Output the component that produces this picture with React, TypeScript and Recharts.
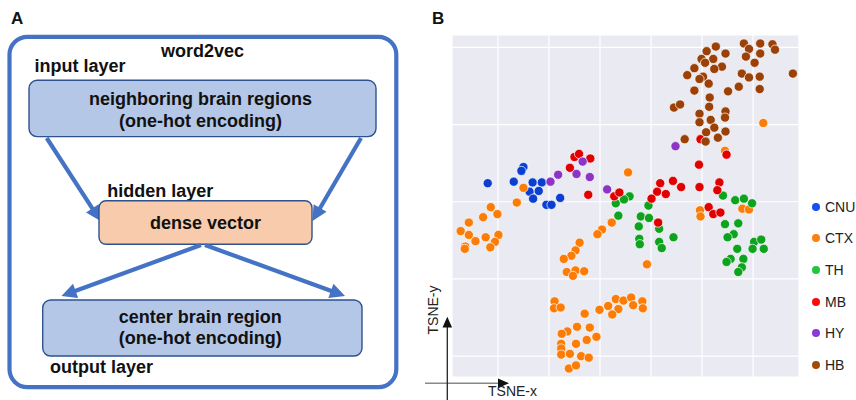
import React from "react";
import { ScatterChart, Scatter, XAxis, YAxis, CartesianGrid, Legend } from "recharts";

// ---------- data (t-SNE coordinates) ----------
const SERIES_NAMES = ["CNU", "CTX", "TH", "MB", "HY", "HB"];
const POINT_COLORS = ["#0b3fd1", "#fb7d07", "#0ea31e", "#e00000", "#8c34c6", "#9b4006"];
const LEGEND_COLORS = ["#1550f5", "#ff8010", "#22c63c", "#ff0a0a", "#8a38d8", "#a24a0a"];

const CNU_POINTS = [
  [-2.0, 22.4], [3.1, 22.6], [5.0, 24.5], [4.6, 24.0], [6.8, 22.5], [8.6, 22.5],
  [6.2, 21.3], [8.0, 21.4], [6.9, 20.4], [12.2, 20.5], [9.5, 19.6], [10.5, 19.6],
];
const CTX_POINTS = [
  [5.0, 21.8], [3.7, 19.9], [-1.4, 19.3], [-0.1, 18.4], [-2.9, 18.0], [-5.7, 17.3],
  [-7.3, 16.2], [-5.7, 15.7], [-2.4, 15.4], [0.1, 15.7], [-4.4, 14.9], [-0.6, 14.8],
  [-6.4, 14.2], [-6.5, 13.9], [-1.5, 14.1], [25.5, 23.8], [22.3, 17.3], [20.4, 16.4],
  [19.5, 15.8], [16.0, 14.7], [15.2, 13.7], [14.4, 13.0], [12.9, 12.6], [13.5, 10.9],
  [15.2, 11.1], [16.9, 11.0], [14.7, 10.4], [29.2, 11.9], [39.6, 18.9], [39.7, 18.1],
  [47.9, 19.1], [49.2, 19.0], [52.0, 30.2], [44.5, 26.6],
  [11.1, 7.1], [11.0, 6.2], [12.3, 6.3], [17.0, 5.5], [19.9, 6.0], [21.6, 6.5],
  [23.1, 7.4], [24.6, 7.2], [26.1, 7.6], [28.3, 7.1], [23.6, 6.1], [26.5, 6.6],
  [28.4, 6.2], [22.4, 5.4], [15.5, 3.8], [18.0, 3.7], [13.6, 3.2], [12.5, 2.9],
  [19.3, 2.5], [17.4, 2.1], [15.3, 1.6], [12.4, 1.6], [12.4, 1.0], [12.4, 0.2],
  [14.1, 0.3], [16.3, 0.0], [17.8, -0.2], [13.9, -1.6], [15.3, -1.2],
];
const TH_POINTS = [
  [23.1, 19.8], [25.8, 20.7], [24.7, 20.3], [29.5, 19.5], [44.1, 20.8], [46.5, 20.2],
  [48.2, 20.4], [49.8, 19.8], [23.6, 18.2], [28.0, 18.1], [29.6, 17.9], [27.6, 16.8],
  [31.6, 16.5], [27.7, 15.2], [27.8, 14.5], [31.6, 14.8], [32.1, 14.0], [34.4, 15.4],
  [44.5, 17.1], [47.1, 17.2], [46.2, 15.8], [45.0, 15.4], [50.2, 14.8], [51.6, 15.1],
  [49.9, 13.9], [52.1, 13.9], [46.9, 13.9], [45.6, 12.6], [44.8, 12.2], [48.1, 12.6],
  [47.8, 11.5], [47.1, 10.9],
];
const MB_POINTS = [
  [15.0, 25.8], [15.9, 26.2], [18.1, 25.6], [14.1, 24.4], [17.7, 20.9], [22.8, 20.7],
  [23.8, 21.2], [39.7, 28.1], [44.8, 26.1], [39.4, 24.8], [34.3, 22.7], [31.8, 22.4],
  [35.9, 21.9], [39.5, 21.9], [43.4, 22.5], [43.0, 21.5], [31.2, 21.3], [32.9, 21.0],
  [30.1, 20.4], [41.3, 19.3], [42.2, 18.4], [43.6, 18.6], [31.4, 17.3],
];
const HY_POINTS = [
  [10.3, 22.6], [11.8, 23.5], [15.4, 23.6], [16.6, 25.2], [18.0, 23.2], [21.4, 21.6],
  [34.8, 27.2],
];
const HB_POINTS = [
  [42.7, 40.1], [40.9, 39.5], [44.6, 39.2], [39.9, 38.5], [42.2, 38.5], [40.6, 38.0],
  [38.5, 37.3], [43.9, 37.5], [42.4, 37.2], [37.1, 36.4], [40.2, 36.2], [39.5, 35.9],
  [41.3, 35.3], [38.5, 34.4], [45.1, 34.3], [47.2, 34.9], [48.2, 40.5], [49.2, 39.8],
  [51.4, 40.5], [53.8, 40.4], [54.3, 39.7], [51.4, 39.2], [48.6, 38.8], [50.3, 38.0],
  [47.8, 36.6], [49.2, 36.1], [51.3, 36.2], [51.3, 34.6], [57.8, 36.6], [41.5, 33.5],
  [41.4, 32.3], [34.5, 32.2], [35.7, 32.6], [39.5, 31.4], [44.6, 31.7], [44.5, 30.9],
  [39.5, 30.3], [41.7, 30.6], [42.4, 29.6], [44.6, 29.1], [40.8, 29.0], [36.6, 28.1],
  [40.7, 27.8], [43.1, 28.3],
];
const ALL_POINTS = [CNU_POINTS, CTX_POINTS, TH_POINTS, MB_POINTS, HY_POINTS, HB_POINTS];

const X_TICKS = [0, 10, 20, 30, 40, 50];
const Y_TICKS = [0, 10, 20, 30, 40];
const X_DOMAIN = [-9.0, 59.0];
const Y_DOMAIN = [-2.7, 41.6];

const series = SERIES_NAMES.map((name, i) => ({
  name,
  color: POINT_COLORS[i],
  legendColor: LEGEND_COLORS[i],
  data: ALL_POINTS[i].map(([x, y]) => ({ x, y })),
}));

const FONT = "'Liberation Sans', Arial, Helvetica, sans-serif";

const Dot = (props: any) => {
  const { cx, cy, fill } = props;
  if (cx == null || cy == null) return null;
  return <circle cx={cx} cy={cy} r={4.6} fill={fill} stroke="#ffffff" strokeWidth={0.7} />;
};

const LegendContent = () => (
  <div style={{ fontFamily: FONT, fontSize: 14, color: "#222" }}>
    {series.map((s) => (
      <div key={s.name} style={{ height: 31.6, display: "flex", alignItems: "center" }}>
        <span
          style={{
            display: "inline-block",
            width: 8,
            height: 8,
            borderRadius: 4,
            background: s.legendColor,
            marginRight: 5,
          }}
        />
        <span>{s.name}</span>
      </div>
    ))}
  </div>
);

// ---------- diagram helpers (panel A) ----------
const DIAG_BLUE = "#4472c4";
const BOX_STROKE = "#2f528f";

function Arrow({ x1, y1, x2, y2 }: { x1: number; y1: number; x2: number; y2: number }) {
  const dx = x2 - x1;
  const dy = y2 - y1;
  const len = Math.sqrt(dx * dx + dy * dy);
  const ux = dx / len;
  const uy = dy / len;
  const headLen = 15;
  const headHalf = 7.5;
  const bx = x2 - ux * headLen;
  const by = y2 - uy * headLen;
  const px = -uy;
  const py = ux;
  const pts = `${x2},${y2} ${bx + px * headHalf},${by + py * headHalf} ${bx - px * headHalf},${by - py * headHalf}`;
  return (
    <g>
      <line x1={x1} y1={y1} x2={bx + ux * 2} y2={by + uy * 2} stroke={DIAG_BLUE} strokeWidth={4.2} />
      <polygon points={pts} fill={DIAG_BLUE} />
    </g>
  );
}

const T = (p: any) => (
  <text fontFamily={FONT} fontWeight="bold" fontSize={18} fill="#111" {...p} />
);

export default function App() {
  return (
    <div style={{ position: "absolute", left: 0, top: 0, width: 856, height: 400, background: "#fff" }}>
      <ScatterChart
        width={856}
        height={400}
        margin={{ top: 35, right: 57, bottom: 23, left: 452 }}
        style={{ fontFamily: FONT }}
      >
        <CartesianGrid fill="#eaeaf2" stroke="#ffffff" strokeWidth={1.2} fillOpacity={1} />
        <XAxis type="number" dataKey="x" domain={X_DOMAIN} ticks={X_TICKS} hide />
        <YAxis type="number" dataKey="y" domain={Y_DOMAIN} ticks={Y_TICKS} hide />
        {series.map((s) => (
          <Scatter
            key={s.name}
            name={s.name}
            data={s.data}
            fill={s.color}
            shape={<Dot />}
            isAnimationActive={false}
          />
        ))}
        <Legend
          layout="horizontal"
          verticalAlign="middle"
          align="center"
          content={<LegendContent />}
          wrapperStyle={{ position: "absolute", left: 812, top: 191, width: 44 }}
        />
      </ScatterChart>

      <svg
        width={856}
        height={400}
        style={{ position: "absolute", left: 0, top: 0, pointerEvents: "none" }}
      >
        {/* panel letters */}
        <text x={11} y={24} fontFamily={FONT} fontWeight="bold" fontSize={17} fill="#111">A</text>
        <text x={432} y={24} fontFamily={FONT} fontWeight="bold" fontSize={17} fill="#111">B</text>

        {/* panel A: word2vec diagram */}
        <rect x={9.5} y={36.8} width={386.8} height={350.4} rx={18} fill="none" stroke={DIAG_BLUE} strokeWidth={4.2} />
        <T x={202.5} y={56.5} textAnchor="middle">word2vec</T>
        <T x={34.5} y={71.5}>input layer</T>

        <rect x={29} y={80.3} width={347} height={56.3} rx={8} fill="#b4c7e7" stroke={BOX_STROKE} strokeWidth={1.4} />
        <T x={200.5} y={105} textAnchor="middle">neighboring brain regions</T>
        <T x={200.5} y={126.5} textAnchor="middle">(one-hot encoding)</T>

        <Arrow x1={46.7} y1={138} x2={100.5} y2={221} />
        <Arrow x1={361} y1={138} x2={312.5} y2={221} />

        <T x={107.3} y={196.5}>hidden layer</T>
        <rect x={99} y={200.7} width={213} height={43.6} rx={7} fill="#f8cbad" stroke={BOX_STROKE} strokeWidth={1.4} />
        <T x={205.5} y={229} textAnchor="middle">dense vector</T>

        <Arrow x1={201} y1={245} x2={61.5} y2={296} />
        <Arrow x1={205} y1={245} x2={345} y2={296} />

        <rect x={42.7} y={300} width={319.3} height={56} rx={8} fill="#b4c7e7" stroke={BOX_STROKE} strokeWidth={1.4} />
        <T x={200.3} y={322.5} textAnchor="middle">center brain region</T>
        <T x={200.3} y={344.3} textAnchor="middle">(one-hot encoding)</T>
        <T x={50} y={373}>output layer</T>

        {/* panel B axis arrows */}
        <line x1={425} y1={383.3} x2={499} y2={383.3} stroke="#888" strokeWidth={1.6} />
        <polygon points="509,383.3 498,378.5 498,388.1" fill="#111" />
        <line x1={447.3} y1={400} x2={447.3} y2={327} stroke="#222" strokeWidth={1.3} />
        <polygon points="447.3,316.7 442.5,327.5 452.1,327.5" fill="#111" />
        <text
          x={0}
          y={0}
          transform="translate(437.5,310) rotate(-90)"
          textAnchor="middle"
          fontFamily={FONT}
          fontSize={14}
          fill="#222"
        >
          TSNE-y
        </text>
        <text x={488} y={396} fontFamily={FONT} fontSize={14} fill="#222">TSNE-x</text>
      </svg>
    </div>
  );
}
